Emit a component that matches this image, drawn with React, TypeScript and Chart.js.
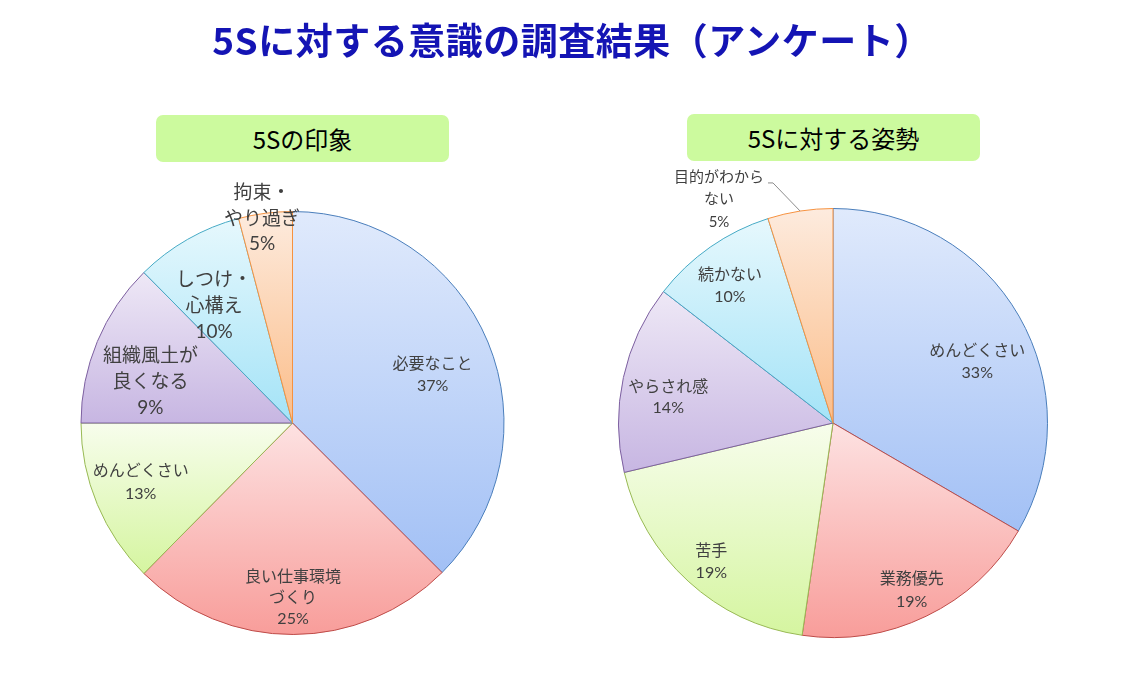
import React, { useEffect, useRef } from "react";
import { Chart, registerables } from "chart.js";

Chart.register(...registerables);

// ---------- data ----------
const pageTitle = "5Sに対する意識の調査結果（アンケート）";

const impressionTitle = "5Sの印象";
const impressionCategories = ["必要なこと", "良い仕事環境づくり", "めんどくさい", "組織風土が良くなる", "しつけ・心構え", "拘束・やり過ぎ"];
const impressionLabelLines = [["必要なこと"], ["良い仕事環境", "づくり"], ["めんどくさい"], ["組織風土が", "良くなる"], ["しつけ・", "心構え"], ["拘束・", "やり過ぎ"]];
const impressionValues = [37.5, 24.9, 12.6, 12.6, 8.3, 4.1];
const impressionPercentLabels = ["37%", "25%", "13%", "9%", "10%", "5%"];

const attitudeTitle = "5Sに対する姿勢";
const attitudeCategories = ["めんどくさい", "業務優先", "苦手", "やらされ感", "続かない", "目的がわからない"];
const attitudeLabelLines = [["めんどくさい"], ["業務優先"], ["苦手"], ["やらされ感"], ["続かない"], ["目的がわから", "ない"]];
const attitudeValues = [33.4, 18.9, 19.0, 14.2, 9.6, 4.9];
const attitudePercentLabels = ["33%", "19%", "19%", "14%", "10%", "5%"];

// ---------- styles ----------
const sliceTopColors = ["#e0eafc", "#fde2e2", "#f7fdec", "#eee8f6", "#e6f8fd", "#fdebde"];
const sliceBottomColors = ["#a2c0f5", "#f89d9a", "#d5f5a0", "#c7b6e2", "#a4e3f7", "#fbbd89"];
const sliceBorderColors = ["#4a7ebb", "#be4b48", "#98b954", "#7d60a0", "#46aac5", "#f69240"];
const labelColor = "#404040";
const labelFont = "Lato, 'Noto Sans CJK JP', sans-serif";

type LabelLayout = { rf: number; da: number; size: number; lh: number; leader?: boolean };

const impressionLabelLayout: LabelLayout[] = [
  { rf: 0.7, da: 3.6, size: 16, lh: 22 },
  { rf: 0.825, da: 0, size: 16, lh: 21 },
  { rf: 0.77, da: 1.4, size: 16, lh: 23 },
  { rf: 0.7, da: -6.4, size: 19, lh: 26 },
  { rf: 0.665, da: -4.2, size: 19, lh: 26 },
  { rf: 0.977, da: -1.1, size: 19, lh: 25.5 },
];
const attitudeLabelLayout: LabelLayout[] = [
  { rf: 0.73, da: 7, size: 16, lh: 22 },
  { rf: 0.86, da: 0.5, size: 16, lh: 23 },
  { rf: 0.86, da: -1.2, size: 16, lh: 22 },
  { rf: 0.777, da: -3.5, size: 16, lh: 21 },
  { rf: 0.8, da: -2, size: 16, lh: 22 },
  { rf: 1.17, da: -18.2, size: 15, lh: 22.5, leader: true },
];

function sliceGradient(c: any) {
  const chart = c.chart;
  const area = chart.chartArea;
  const i = c.dataIndex;
  if (!area || i === undefined || i === null) return sliceBottomColors[i ?? 0];
  const data = c.dataset.data as number[];
  const total = data.reduce((a, b) => a + b, 0);
  let start = -Math.PI / 2;
  for (let k = 0; k < i; k++) start += (data[k] / total) * 2 * Math.PI;
  const end = start + (data[i] / total) * 2 * Math.PI;
  const cy = (area.top + area.bottom) / 2;
  const r = (Math.min(area.right - area.left, area.bottom - area.top) - 1) / 2;
  const ys = [cy, cy + r * Math.sin(start), cy + r * Math.sin(end)];
  for (const t of [-Math.PI / 2, Math.PI / 2, (3 * Math.PI) / 2]) {
    if (t >= start && t <= end) ys.push(cy + r * Math.sin(t));
  }
  const top = Math.min(...ys);
  const bottom = Math.max(...ys);
  const g = chart.ctx.createLinearGradient(0, top, 0, bottom + 0.01);
  g.addColorStop(0, sliceTopColors[i]);
  g.addColorStop(1, sliceBottomColors[i]);
  return g;
}

function makeLabelPlugin(lines: string[][], percents: string[], layout: LabelLayout[]) {
  return {
    id: "sliceLabels",
    afterDatasetsDraw(chart: any) {
      const ctx: CanvasRenderingContext2D = chart.ctx;
      const meta = chart.getDatasetMeta(0);
      meta.data.forEach((arc: any, i: number) => {
        const L = layout[i];
        const R = arc.outerRadius;
        const mid = (arc.startAngle + arc.endAngle) / 2;
        const a = mid + (L.da * Math.PI) / 180;
        const x = arc.x + L.rf * R * Math.cos(a);
        const y = arc.y + L.rf * R * Math.sin(a);
        const all = [...lines[i], percents[i]];
        const n = all.length;
        ctx.save();
        ctx.font = `${L.size}px ${labelFont}`;
        ctx.fillStyle = labelColor;
        ctx.textAlign = "center";
        ctx.textBaseline = "middle";
        all.forEach((t, k) => {
          const ly = y - ((n - 1) * L.lh) / 2 + k * L.lh;
          ctx.fillText(t, x, ly);
        });
        if (L.leader) {
          const firstW = ctx.measureText(all[0]).width;
          const sx = x + firstW / 2 + 4;
          const sy = y - ((n - 1) * L.lh) / 2 + 6;
          const ex = arc.x + R * Math.cos(mid);
          const ey = arc.y + R * Math.sin(mid);
          ctx.strokeStyle = "#8c8c8c";
          ctx.lineWidth = 1;
          ctx.beginPath();
          ctx.moveTo(sx, sy);
          ctx.lineTo(sx + 5, sy);
          ctx.lineTo(ex, ey);
          ctx.stroke();
        }
        ctx.restore();
      });
    },
  };
}

function PieCanvas(props: {
  left: number;
  padding: { left: number; right: number; top: number; bottom: number };
  categories: string[];
  values: number[];
  lines: string[][];
  percents: string[];
  layout: LabelLayout[];
}) {
  const ref = useRef<HTMLCanvasElement | null>(null);
  useEffect(() => {
    if (!ref.current) return;
    const chart = new Chart(ref.current, {
      type: "pie",
      data: {
        labels: props.categories,
        datasets: [
          {
            data: props.values,
            backgroundColor: sliceGradient as any,
            borderColor: sliceBorderColors,
            borderWidth: 1,
          },
        ],
      },
      options: {
        animation: false,
        responsive: false,
        maintainAspectRatio: false,
        layout: { padding: props.padding },
        plugins: { legend: { display: false }, tooltip: { enabled: false } },
      },
      plugins: [makeLabelPlugin(props.lines, props.percents, props.layout)],
    });
    return () => chart.destroy();
  }, []);
  return (
    <canvas
      ref={ref}
      width={570}
      height={683}
      style={{ position: "absolute", left: props.left, top: 0, width: 570, height: 683 }}
    />
  );
}

const boxStyle: React.CSSProperties = {
  position: "absolute",
  width: 293,
  height: 47,
  background: "#ccfa9e",
  borderRadius: 7,
  display: "flex",
  alignItems: "center",
  justifyContent: "center",
  fontFamily: "'Noto Sans CJK JP', sans-serif",
  fontSize: 24,
  color: "#000",
};

export default function App() {
  return (
    <div
      style={{
        position: "fixed",
        left: 0,
        top: 0,
        width: 1140,
        height: 683,
        background: "#fff",
        overflow: "hidden",
      }}
    >
      <PieCanvas
        left={0}
        padding={{ left: 80, right: 65, top: 211, bottom: 48 }}
        categories={impressionCategories}
        values={impressionValues}
        lines={impressionLabelLines}
        percents={impressionPercentLabels}
        layout={impressionLabelLayout}
      />
      <PieCanvas
        left={570}
        padding={{ left: 48, right: 92, top: 208, bottom: 45 }}
        categories={attitudeCategories}
        values={attitudeValues}
        lines={attitudeLabelLines}
        percents={attitudePercentLabels}
        layout={attitudeLabelLayout}
      />
      <div
        style={{
          position: "absolute",
          left: 10,
          top: 21,
          width: 1124,
          textAlign: "center",
          fontFamily: "'Noto Sans CJK JP', sans-serif",
          fontWeight: 700,
          fontSize: 37,
          lineHeight: "37px",
          letterSpacing: "0.5px",
          color: "#1414b4",
          whiteSpace: "nowrap",
        }}
      >
        {pageTitle}
      </div>
      <div style={{ ...boxStyle, left: 156, top: 115 }}>{impressionTitle}</div>
      <div style={{ ...boxStyle, left: 687, top: 114 }}>{attitudeTitle}</div>
    </div>
  );
}
